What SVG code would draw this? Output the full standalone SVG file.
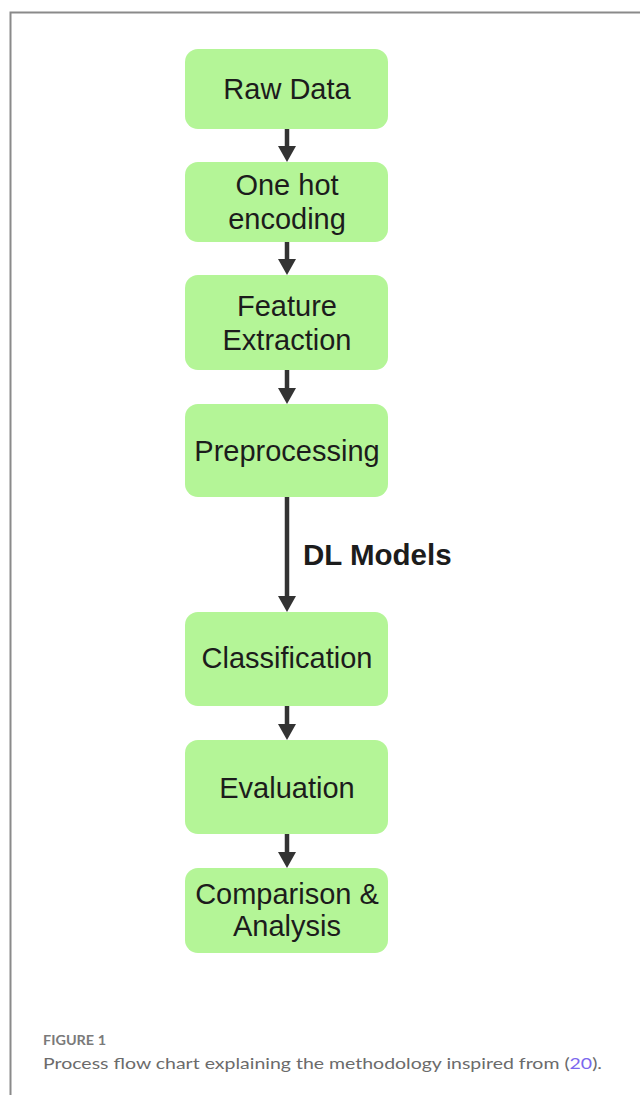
<svg xmlns="http://www.w3.org/2000/svg" width="640" height="1095" viewBox="0 0 640 1095">
<defs>
<style>
.box{fill:#b4f597;}
.lbl{font-family:"Liberation Sans",Arial,sans-serif;font-size:29px;fill:#1c1c1c;text-anchor:middle;}
.edge{stroke:#333;stroke-width:4.5;fill:none;}
.head{fill:#333;}
.frame{stroke:#8a8a8a;stroke-width:2;fill:none;}
.cap{font-family:Lato,"Open Sans",sans-serif;font-size:16px;fill:#6b6b6b;}
.fig{font-family:Lato,"Open Sans",sans-serif;font-size:13px;font-weight:bold;fill:#7a7a7a;}
</style>
</defs>
<rect width="640" height="1095" fill="#ffffff"/>
<path class="frame" d="M10.5,1095 V12.5 H640"/>
<g id="connectors">
<line class="edge" x1="287" y1="129" x2="287" y2="148"/>
<polygon class="head" points="278,146 296,146 287,162"/>
<line class="edge" x1="287" y1="242" x2="287" y2="261"/>
<polygon class="head" points="278,259 296,259 287,275"/>
<line class="edge" x1="287" y1="370" x2="287" y2="390"/>
<polygon class="head" points="278,388 296,388 287,404"/>
<line class="edge" x1="287" y1="497" x2="287" y2="598"/>
<polygon class="head" points="278,596 296,596 287,612"/>
<line class="edge" x1="287" y1="706" x2="287" y2="726"/>
<polygon class="head" points="278,724 296,724 287,740"/>
<line class="edge" x1="287" y1="834" x2="287" y2="854"/>
<polygon class="head" points="278,852 296,852 287,868"/>
<text x="303" y="565" font-family="'Liberation Sans',Arial,sans-serif" font-size="29.5" font-weight="bold" fill="#1c1c1c">DL Models</text>
</g>
<g id="raw-data">
<rect class="box" x="185" y="49" width="203" height="80" rx="13"/>
<text class="lbl" x="287" y="99">Raw Data</text>
</g>
<g id="one-hot">
<rect class="box" x="185" y="162" width="203" height="80" rx="13"/>
<text class="lbl" x="287" y="195">One hot</text>
<text class="lbl" x="287" y="229">encoding</text>
</g>
<g id="feature-extraction">
<rect class="box" x="185" y="275" width="203" height="95" rx="13"/>
<text class="lbl" x="287" y="316">Feature</text>
<text class="lbl" x="287" y="350">Extraction</text>
</g>
<g id="preprocessing">
<rect class="box" x="185" y="404" width="203" height="93" rx="13"/>
<text class="lbl" x="287" y="461">Preprocessing</text>
</g>
<g id="classification">
<rect class="box" x="185" y="612" width="203" height="94" rx="13"/>
<text class="lbl" x="287" y="668">Classification</text>
</g>
<g id="evaluation">
<rect class="box" x="185" y="740" width="203" height="94" rx="13"/>
<text class="lbl" x="287" y="798">Evaluation</text>
</g>
<g id="comparison">
<rect class="box" x="185" y="868" width="203" height="85" rx="13"/>
<text class="lbl" x="287" y="904">Comparison &amp;</text>
<text class="lbl" x="287" y="936">Analysis</text>
</g>
<g id="caption">
<text class="fig" x="43" y="1045" textLength="63" lengthAdjust="spacingAndGlyphs">FIGURE 1</text>
<text class="cap" x="43" y="1069" textLength="559" lengthAdjust="spacingAndGlyphs">Process flow chart explaining the methodology inspired from (<tspan fill="#7b68ee">20</tspan>).</text>
</g>
</svg>
